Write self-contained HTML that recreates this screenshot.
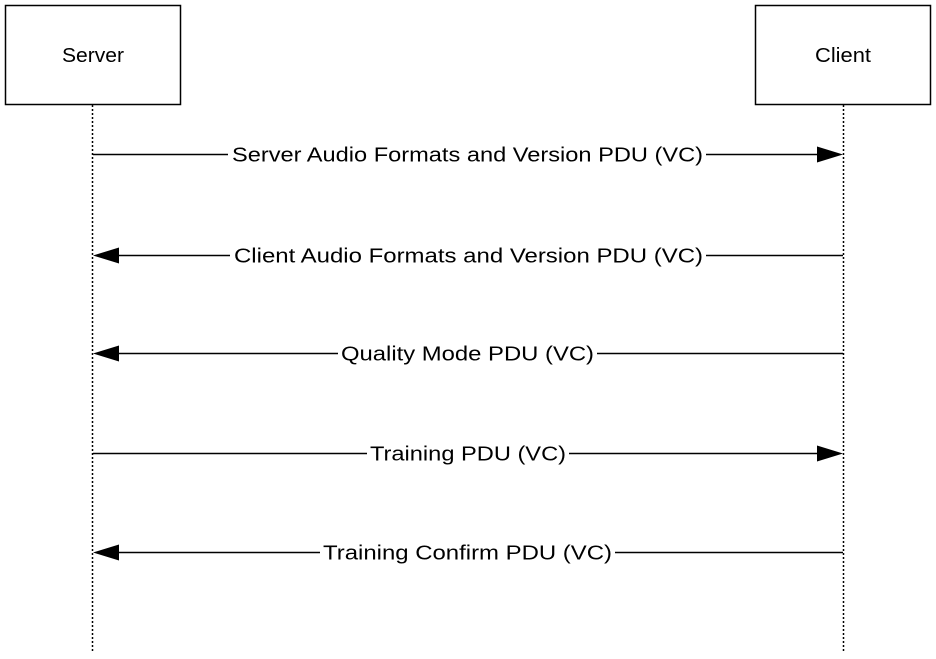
<!DOCTYPE html>
<html><head><meta charset="utf-8"><style>
html,body{margin:0;padding:0;background:#fff;width:936px;height:659px;overflow:hidden}
text{font-family:"Liberation Sans",Arial,sans-serif;font-size:20px;fill:#000}
</style></head><body>
<svg width="936" height="659" viewBox="0 0 936 659" xmlns="http://www.w3.org/2000/svg">
<rect x="5.5" y="5.5" width="175" height="99" fill="#fff" stroke="#000" stroke-width="1.5"/>
<rect x="755.5" y="5.5" width="175" height="99" fill="#fff" stroke="#000" stroke-width="1.5"/>
<text x="93" y="62" text-anchor="middle" textLength="62" lengthAdjust="spacingAndGlyphs">Server</text>
<text x="843" y="62" text-anchor="middle" textLength="56" lengthAdjust="spacingAndGlyphs">Client</text>
<line x1="92.5" y1="105" x2="92.5" y2="652" stroke="#000" stroke-width="1.5" stroke-dasharray="2,2"/>
<line x1="843.5" y1="105" x2="843.5" y2="652" stroke="#000" stroke-width="1.5" stroke-dasharray="2,2"/>
<g stroke="#000" stroke-width="1.5">
<line x1="93" y1="154.5" x2="228" y2="154.5"/><line x1="706" y1="154.5" x2="820" y2="154.5"/>
<line x1="118" y1="255.5" x2="230" y2="255.5"/><line x1="706" y1="255.5" x2="843" y2="255.5"/>
<line x1="118" y1="353.5" x2="338" y2="353.5"/><line x1="597" y1="353.5" x2="843" y2="353.5"/>
<line x1="93" y1="453.5" x2="367" y2="453.5"/><line x1="569" y1="453.5" x2="820" y2="453.5"/>
<line x1="118" y1="552.5" x2="320" y2="552.5"/><line x1="615" y1="552.5" x2="843" y2="552.5"/>
</g>
<g fill="#000">
<polygon points="843,154.5 817,146.5 817,162.5"/>
<polygon points="93,255.5 119,247.5 119,263.5"/>
<polygon points="93,353.5 119,345.5 119,361.5"/>
<polygon points="843,453.5 817,445.5 817,461.5"/>
<polygon points="93,552.5 119,544.5 119,560.5"/>
</g>
<text x="232" y="161.5" textLength="471" lengthAdjust="spacingAndGlyphs">Server Audio Formats and Version PDU (VC)</text>
<text x="234" y="262.5" textLength="469" lengthAdjust="spacingAndGlyphs">Client Audio Formats and Version PDU (VC)</text>
<text x="341" y="360.5" textLength="253" lengthAdjust="spacingAndGlyphs">Quality Mode PDU (VC)</text>
<text x="370" y="460.5" textLength="196" lengthAdjust="spacingAndGlyphs">Training PDU (VC)</text>
<text x="323" y="559.5" textLength="289" lengthAdjust="spacingAndGlyphs">Training Confirm PDU (VC)</text>
</svg>
</body></html>
